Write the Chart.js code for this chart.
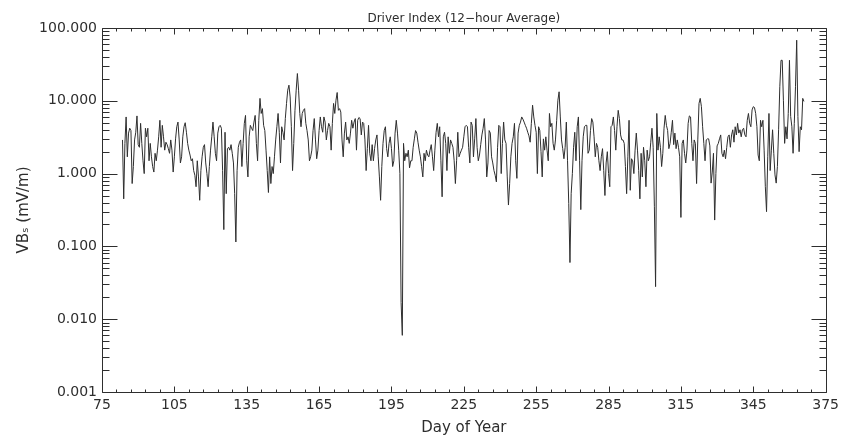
<!DOCTYPE html>
<html>
<head>
<meta charset="utf-8">
<title>Driver Index (12−hour Average)</title>
<script src="https://cdn.jsdelivr.net/npm/chart.js@4.4.1/dist/chart.umd.min.js"></script>
<style>
  html, body { margin: 0; padding: 0; background: #fff; }
</style>
</head>
<body>
<canvas id="vbsChart" width="844" height="437"></canvas>
<script>
const TITLE = 'Driver Index (12−hour Average)';
const X_TITLE = 'Day of Year';
const Y_TITLE = 'VBₛ (mV/m)';

// 12-hour averages, first sample at day 83.5
const FIRST_DAY = 83.5;
const STEP_DAYS = 0.5;

// days 83.5 - 126.5
const vbsSpring = [
  2.9, 0.45, 2.6, 6.0, 1.7, 3.6, 4.2, 3.9, 0.73, 1.25,
  2.9, 3.7, 6.2, 2.5, 2.3, 4.9, 2.6, 1.5, 1.0, 4.2,
  3.2, 4.2, 1.5, 2.6, 1.7, 1.25, 1.05, 1.9, 1.5, 2.1,
  3.2, 5.4, 2.3, 4.6, 3.2, 2.1, 2.7, 2.5, 2.2, 1.9,
  2.9, 2.1, 1.05, 1.7, 3.0, 4.4, 5.1, 2.9, 1.4, 1.7,
  3.2, 4.4, 5.0, 3.7, 2.6, 2.1, 1.8, 1.5, 1.6, 1.1,
  0.95, 0.66, 1.5, 0.9, 0.43, 1.1, 1.7, 2.3, 2.5, 1.4,
  1.0, 0.66, 1.25, 2.1, 3.2, 5.1, 3.2, 1.9, 1.5, 3.6,
  4.4, 4.6, 4.2, 1.1, 0.17, 3.7, 0.53
];

// days 127 - 176
const vbsMay = [
  2.2, 2.3, 2.1, 2.5, 1.9, 1.4, 0.53, 0.115, 1.1, 2.3,
  2.7, 2.9, 1.25, 2.6, 4.9, 6.3, 1.5, 0.9, 3.2, 4.6,
  4.2, 3.9, 5.1, 6.3, 2.6, 1.5, 5.4, 10.8, 6.7, 7.8,
  4.6, 3.9, 2.1, 1.1, 0.55, 1.7, 0.73, 1.25, 1.0, 1.7,
  2.9, 4.4, 6.7, 3.7, 1.4, 4.4, 3.7, 2.9, 5.7, 9.2,
  14.0, 16.4, 11.3, 4.4, 1.1, 2.6, 7.4, 14.0, 23.7, 14.0,
  6.7, 4.4, 6.7, 7.4, 7.8, 4.9, 3.9, 2.9, 1.5, 1.7,
  2.1, 3.9, 5.7, 2.9, 1.6, 2.1, 3.9, 6.0, 4.4, 3.7,
  6.0, 5.1, 2.9, 3.9, 4.9, 4.4, 2.1, 4.9, 9.2, 6.7,
  10.2, 13.0, 7.4, 7.8, 7.0, 2.9, 1.7, 3.6, 5.1
];

// days 176.5 - 225.5
const vbsJuly = [
  2.9, 3.2, 2.6, 3.6, 5.4, 4.2, 5.1, 5.7, 2.1, 5.4,
  5.9, 5.7, 3.4, 5.1, 4.9, 2.9, 1.1, 2.2, 4.6, 1.9,
  1.5, 2.5, 1.5, 2.2, 2.9, 3.4, 1.7, 0.9, 0.43, 1.25,
  2.6, 3.9, 4.4, 2.2, 1.7, 2.6, 3.2, 2.2, 1.25, 1.5,
  3.6, 5.4, 3.6, 2.1, 1.0, 0.017, 0.006, 2.6, 1.5, 1.9,
  1.7, 2.1, 1.2, 1.5, 1.5, 2.3, 3.0, 3.9, 3.6, 2.7,
  2.1, 1.7, 1.25, 0.9, 1.9, 1.5, 2.1, 1.8, 1.7, 2.1,
  2.5, 1.7, 1.1, 2.1, 3.7, 4.9, 3.2, 4.4, 1.5, 0.48,
  3.2, 3.7, 2.6, 1.1, 3.2, 1.9, 2.9, 2.6, 2.3, 1.5,
  0.73, 1.5, 3.7, 1.7, 1.9, 2.1, 2.3, 3.2, 4.4
];

// days 226 - 275.5
const vbsSeptember = [
  4.6, 4.4, 2.3, 1.4, 5.1, 4.6, 1.7, 3.0, 5.7, 2.3,
  1.5, 1.8, 2.5, 3.4, 4.2, 5.7, 2.9, 0.9, 1.4, 3.9,
  3.6, 1.7, 1.4, 1.1, 0.95, 0.77, 2.3, 4.6, 4.4, 1.0,
  2.6, 5.1, 2.9, 2.6, 0.9, 0.37, 0.73, 1.7, 2.6, 3.2,
  4.9, 1.5, 0.86, 3.6, 4.6, 5.1, 6.0, 5.6, 5.1, 4.6,
  4.2, 3.7, 3.3, 2.7, 4.9, 8.7, 6.0, 4.6, 3.7, 1.0,
  4.4, 3.9, 2.0, 0.9, 3.0, 2.1, 3.2, 2.1, 1.5, 6.7,
  4.4, 4.9, 2.6, 2.1, 2.9, 5.4, 10.2, 13.3, 6.0, 2.9,
  2.2, 1.6, 2.3, 5.1, 1.5, 0.39, 0.06, 0.53, 1.0, 2.3,
  3.7, 1.5, 4.4, 6.0, 1.5, 0.32, 1.5, 3.2, 4.4, 4.6
];

// days 276 - 325
const vbsOctober = [
  4.6, 1.9, 2.1, 3.9, 5.7, 5.1, 3.2, 1.7, 2.6, 2.3,
  1.5, 1.1, 1.7, 2.2, 1.1, 0.5, 1.4, 2.0, 1.0, 0.66,
  4.4, 4.6, 6.0, 3.9, 2.1, 4.4, 7.4, 5.7, 3.4, 2.9,
  2.9, 2.6, 1.25, 0.53, 1.7, 5.4, 0.59, 1.6, 1.5, 1.0,
  2.1, 3.6, 2.1, 1.1, 0.45, 1.9, 0.9, 2.3, 1.5, 0.66,
  2.1, 1.5, 1.7, 2.7, 4.2, 2.3, 0.35, 0.028, 6.7, 2.1,
  3.2, 2.3, 1.25, 1.9, 4.2, 6.3, 4.6, 3.9, 2.2, 2.6,
  3.7, 5.4, 2.5, 3.6, 2.2, 2.9, 2.3, 1.7, 0.25, 2.6,
  2.9, 1.9, 1.4, 2.1, 4.9, 6.2, 6.0, 2.6, 1.5, 2.9,
  2.6, 0.73, 2.9, 9.2, 10.8, 8.3, 4.4, 2.6, 1.5
];

// days 325.5 - 366
const vbsDecember = [
  2.9, 3.0, 3.0, 2.4, 0.74, 1.05, 1.9, 0.23, 1.0, 2.4,
  2.6, 3.0, 3.4, 1.9, 1.7, 2.1, 1.6, 2.3, 3.2, 3.4,
  2.3, 3.4, 4.0, 2.7, 4.4, 3.4, 4.9, 3.6, 4.0, 3.2,
  4.0, 4.2, 3.4, 3.2, 5.4, 6.7, 4.9, 4.4, 7.5, 8.3,
  8.1, 6.7, 4.4, 1.8, 1.5, 5.4, 4.4, 5.4, 2.1, 0.66,
  0.3, 1.7, 6.7, 1.1, 2.1, 4.0, 1.9, 0.96, 0.74, 1.25,
  4.0, 15.6, 36, 36, 10, 2.6, 4.4, 3.0, 6.7, 36,
  6.1, 4.4, 1.9, 4.9, 15.6, 68, 6.1, 2.0, 4.4, 4.0,
  10.8, 9.8
];

const vbs = [...vbsSpring, ...vbsMay, ...vbsJuly, ...vbsSeptember, ...vbsOctober, ...vbsDecember];

const X_MIN = 75;
const X_MAX = 375;
const X_MAJOR = 30;
const X_MINOR = 6;
const yTicks = [0.001, 0.01, 0.1, 1, 10, 100];

const INK = '#2e2e2e';
const FONT = '"DejaVu Sans", Verdana, sans-serif';

const points = vbs.map((v, i) => ({ x: FIRST_DAY + i * STEP_DAYS, y: v }));

// IDL style box: frame, inward ticks on all four sides, title over the plot
const idlFrame = {
  id: 'idlFrame',
  afterDraw(chart) {
    const { ctx, chartArea: a, scales: { x, y } } = chart;
    const L = Math.round(a.left) + 0.5;
    const R = Math.round(a.right) + 0.5;
    const T = Math.round(a.top) + 0.5;
    const B = Math.round(a.bottom) + 0.5;

    ctx.save();
    ctx.strokeStyle = INK;
    ctx.lineWidth = 1;
    ctx.beginPath();
    ctx.rect(L, T, R - L, B - T);

    for (let d = X_MIN; d <= X_MAX; d += X_MINOR) {
      const px = Math.round(x.getPixelForValue(d)) + 0.5;
      const len = (d - X_MIN) % X_MAJOR === 0 ? 6 : 3;
      ctx.moveTo(px, B);
      ctx.lineTo(px, B - len);
      ctx.moveTo(px, T);
      ctx.lineTo(px, T + len);
    }

    yTicks.forEach((dec, k) => {
      const mults = k === yTicks.length - 1 ? [1] : [1, 2, 3, 4, 5, 6, 7, 8, 9];
      mults.forEach(m => {
        const py = Math.round(y.getPixelForValue(dec * m)) + 0.5;
        const len = m === 1 ? 15 : 7;
        ctx.moveTo(L, py);
        ctx.lineTo(L + len, py);
        ctx.moveTo(R, py);
        ctx.lineTo(R - len, py);
      });
    });
    ctx.stroke();

    ctx.fillStyle = INK;
    ctx.font = '12px ' + FONT;
    ctx.textAlign = 'center';
    ctx.textBaseline = 'alphabetic';
    ctx.fillText(TITLE, (a.left + a.right) / 2, 22);
    ctx.restore();
  },
};

new Chart(document.getElementById('vbsChart'), {
  type: 'line',
  data: {
    datasets: [
      {
        label: 'VBs',
        data: points,
        borderColor: INK,
        borderWidth: 1,
        pointRadius: 0,
        tension: 0,
        fill: false,
      },
    ],
  },
  options: {
    responsive: false,
    animation: false,
    events: [],
    layout: { padding: { top: 28, right: 15, bottom: 0, left: 0 } },
    plugins: {
      legend: { display: false },
      tooltip: { enabled: false },
      title: { display: false },
    },
    scales: {
      x: {
        type: 'linear',
        min: X_MIN,
        max: X_MAX,
        grid: { display: false, drawTicks: false },
        border: { display: false },
        ticks: {
          stepSize: X_MAJOR,
          color: INK,
          padding: 5,
          maxRotation: 0,
          font: { family: FONT, size: 14 },
        },
        title: {
          display: true,
          text: X_TITLE,
          color: INK,
          font: { family: FONT, size: 15 },
          padding: { top: 2, bottom: 0 },
        },
        afterFit(scale) {
          scale.height = 45;
        },
      },
      y: {
        type: 'logarithmic',
        min: 0.001,
        max: 100,
        grid: { display: false, drawTicks: false },
        border: { display: false },
        afterBuildTicks(scale) {
          scale.ticks = yTicks.map(v => ({ value: v }));
        },
        ticks: {
          color: INK,
          padding: 5,
          font: { family: FONT, size: 14 },
          callback: v => Number(v).toFixed(3),
        },
        title: {
          display: true,
          text: Y_TITLE,
          color: INK,
          font: { family: FONT, size: 15 },
          padding: { top: 15, bottom: 0 },
        },
        afterFit(scale) {
          scale.width = 102;
        },
      },
    },
  },
  plugins: [idlFrame],
});
</script>
</body>
</html>
